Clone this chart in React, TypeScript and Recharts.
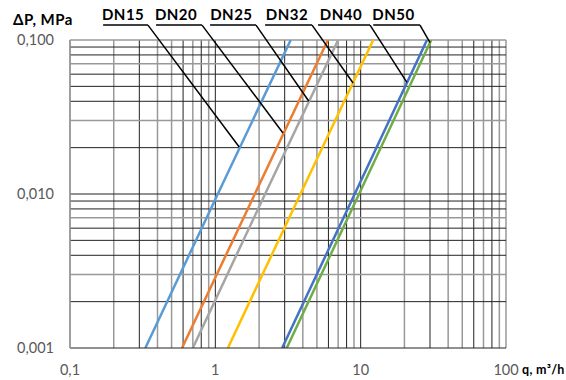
import {
  ComposedChart,
  Line,
  ReferenceDot,
  ReferenceLine,
  XAxis,
  YAxis,
} from 'recharts';

// pressure drop points (MPa) where the flow values were read
const pressure = [0.001, 0.01, 0.1];

// flow q, m3/h for each valve size at those pressures
const dn15 = [0.33, 1.04, 3.3];
const dn20 = [0.59, 1.87, 5.95];
const dn25 = [0.7, 2.2, 7.0];
const dn32 = [1.22, 3.85, 12.2];
const dn40 = [2.88, 9.1, 28.6];
const dn50 = [3.1, 9.75, 30.6];

const seriesNames = ['DN15', 'DN20', 'DN25', 'DN32', 'DN40', 'DN50'];
const seriesColors = ['#5B9BD5', '#ED7D31', '#A5A5A5', '#FFC000', '#4472C4', '#70AD47'];
const seriesValues = [dn15, dn20, dn25, dn32, dn40, dn50];

// callout labels above the plot
const calloutP = 0.125;
const calloutTextQ = [0.232, 0.537, 1.29, 3.11, 7.33, 16.8];
const calloutStartQ = [0.169, 0.391, 0.92, 2.2, 5.09, 12.2];
const calloutEndQ = [0.344, 0.81, 1.905, 4.63, 11.6, 25.6];
const pointerQ = [1.46, 2.92, 4.4, 8.87, 20.8, 30];
const pointerP = [0.0202, 0.0249, 0.04, 0.0526, 0.053, 0.096];

const xTicks = [0.1, 1, 10, 100];
const yTicks = [0.001, 0.01, 0.1];

// grid: log minor lines, two shades as in the source
const xGridDark = [0.3, 0.6, 0.8, 1, 3, 6, 8, 10, 30, 60, 80];
const xGridGray = [0.1, 0.2, 0.4, 0.5, 0.7, 0.9, 2, 4, 5, 7, 9, 20, 40, 50, 70, 90, 100];
const yGridDark = [0.002, 0.004, 0.005, 0.006, 0.008, 0.009, 0.01, 0.02, 0.04, 0.05, 0.06, 0.08, 0.09];
const yGridGray = [0.003, 0.007, 0.03, 0.07, 0.1];

const fmtX = (v: number) => String(v).replace('.', ',');
const fmtY = (v: number) => v.toFixed(3).replace('.', ',');

const series = seriesNames.map((name, i) => ({
  name,
  color: seriesColors[i],
  data: pressure.map((p, j) => ({ q: seriesValues[i][j], p })),
}));

export default function App() {
  return (
    <div style={{ position: 'absolute', left: 0, top: 0 }}>
      <ComposedChart
        width={566}
        height={380}
        margin={{ top: 40, right: 60, bottom: 0, left: 0 }}
        style={{ fontFamily: 'Lato, sans-serif' }}
      >
        <XAxis
          type='number'
          dataKey='q'
          scale='log'
          domain={[0.1, 100]}
          allowDataOverflow
          ticks={xTicks}
          tickFormatter={fmtX}
          tickLine={false}
          tickSize={0}
          tickMargin={17}
          height={32}
          axisLine={{ stroke: '#222', strokeWidth: 1 }}
          tick={{ fill: '#595959', fontSize: 14.5 }}
          label={{
            value: 'q, m³/h',
            position: 'right',
            offset: 16,
            dy: 6,
            fill: '#000',
            fontSize: 12.5,
            fontWeight: 700,
            letterSpacing: 0.3,
          }}
        />
        <YAxis
          type='number'
          dataKey='p'
          scale='log'
          domain={[0.001, 0.1]}
          allowDataOverflow
          ticks={yTicks}
          tickFormatter={fmtY}
          tickLine={false}
          tickSize={0}
          tickMargin={16}
          width={70}
          axisLine={{ stroke: '#999', strokeWidth: 1.5 }}
          tick={{ fill: '#595959', fontSize: 14.5 }}
          label={{
            value: 'ΔP, MPa',
            position: 'top',
            offset: 15,
            dx: 8,
            fill: '#000',
            fontSize: 15,
            fontWeight: 700,
            letterSpacing: 0.5,
          }}
        />
        {xGridGray.map((v) => (
          <ReferenceLine key={'xg' + v} x={v} stroke='#999' strokeWidth={1.5} />
        ))}
        {xGridDark.map((v) => (
          <ReferenceLine key={'xd' + v} x={v} stroke='#222' strokeWidth={1} />
        ))}
        {yGridGray.map((v) => (
          <ReferenceLine key={'yg' + v} y={v} stroke='#999' strokeWidth={1.5} />
        ))}
        {yGridDark.map((v) => (
          <ReferenceLine key={'yd' + v} y={v} stroke='#222' strokeWidth={1} />
        ))}
        {series.map((s) => (
          <Line
            key={s.name}
            data={s.data}
            dataKey='p'
            name={s.name}
            stroke={s.color}
            strokeWidth={2.5}
            dot={false}
            isAnimationActive={false}
          />
        ))}
        {seriesNames.map((name, i) => (
          <ReferenceLine
            key={'u' + name}
            segment={[
              { x: calloutStartQ[i], y: calloutP },
              { x: calloutEndQ[i], y: calloutP },
            ]}
            stroke='#000'
            strokeWidth={1.5}
            ifOverflow='visible'
          />
        ))}
        {seriesNames.map((name, i) => (
          <ReferenceLine
            key={'d' + name}
            segment={[
              { x: calloutEndQ[i], y: calloutP },
              { x: pointerQ[i], y: pointerP[i] },
            ]}
            stroke='#000'
            strokeWidth={1.5}
            ifOverflow='visible'
          />
        ))}
        {seriesNames.map((name, i) => (
          <ReferenceDot
            key={'t' + name}
            x={calloutTextQ[i]}
            y={calloutP}
            r={1}
            fill='none'
            stroke='none'
            ifOverflow='visible'
            label={{
              value: name,
              position: 'top',
              offset: 4,
              fill: '#000',
              fontSize: 15,
              fontWeight: 700,
              letterSpacing: 0.5,
            }}
          />
        ))}
      </ComposedChart>
    </div>
  );
}
